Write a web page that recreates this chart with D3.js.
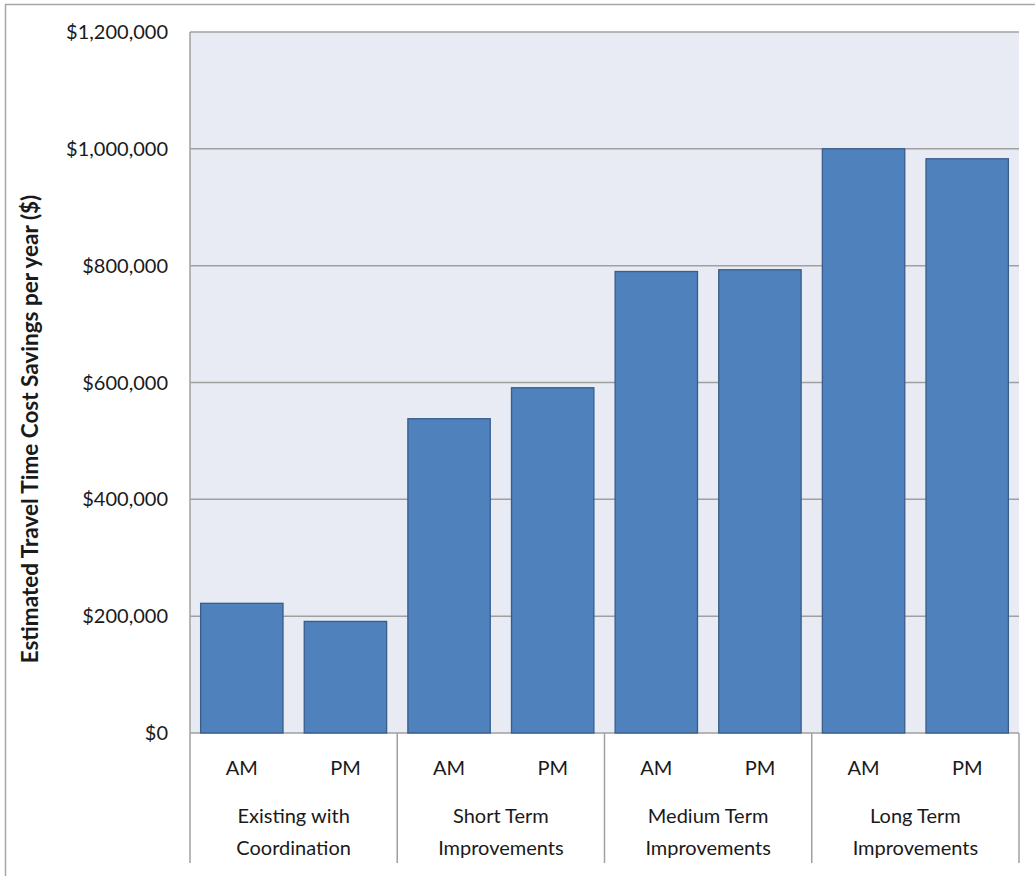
<!DOCTYPE html>
<html>
<head>
<meta charset="utf-8">
<script src="https://cdn.jsdelivr.net/npm/d3@7"></script>
<style>
  html, body { margin: 0; padding: 0; background: #ffffff; }
  svg { display: block; font-family: Lato, "Open Sans", sans-serif; }
</style>
</head>
<body>
<svg id="chart" width="1035" height="876"></svg>
<script>
// Scenario groups and the peak periods within each group
const groups = ["Existing with|Coordination", "Short Term|Improvements", "Medium Term|Improvements", "Long Term|Improvements"];
const periods = ["AM", "PM"];
// Estimated travel time cost savings per year, listed AM then PM for each group
const amValues = [222000, 538000, 790000, 1000000];
const pmValues = [191000, 591000, 793000, 983000];
const yTicks = [0, 200000, 400000, 600000, 800000, 1000000, 1200000];
const yTitle = "Estimated Travel Time Cost Savings per year ($)";

const rows = [];
groups.forEach((g, i) => {
  rows.push({ key: g + "-AM", group: g, period: periods[0], value: amValues[i] });
  rows.push({ key: g + "-PM", group: g, period: periods[1], value: pmValues[i] });
});

const svg = d3.select("#chart");
const plot = { left: 190, right: 1019, top: 32, bottom: 733 };
const textColor = "#1a1a1a";

// Outer chart frame
svg.append("rect")
  .attr("x", 5.5).attr("y", 4.5)
  .attr("width", 1040).attr("height", 900)
  .attr("fill", "#ffffff").attr("stroke", "#a6a6a6").attr("stroke-width", 1.5);

const x = d3.scaleBand()
  .domain(rows.map(d => d.key))
  .range([plot.left, plot.right])
  .paddingInner(0.205)
  .paddingOuter(0.1025);

const xGroup = d3.scaleBand()
  .domain(groups)
  .range([plot.left, plot.right]);

const y = d3.scaleLinear()
  .domain([0, 1200000])
  .range([plot.bottom, plot.top]);

// Plot background
svg.append("rect")
  .attr("x", plot.left).attr("y", plot.top)
  .attr("width", plot.right - plot.left).attr("height", plot.bottom - plot.top)
  .attr("fill", "#e8ebf3");

// Horizontal gridlines
svg.append("g").selectAll("line")
  .data(yTicks)
  .join("line")
  .attr("x1", plot.left).attr("x2", plot.right)
  .attr("y1", d => y(d)).attr("y2", d => y(d))
  .attr("stroke", "#a0a0a0").attr("stroke-width", 1.5);

// Y axis labels
const fmt = d3.format("$,");
svg.append("g").selectAll("text")
  .data(yTicks)
  .join("text")
  .attr("x", 168).attr("y", d => y(d))
  .attr("dy", "0.35em")
  .attr("text-anchor", "end")
  .attr("font-size", 20)
  .attr("fill", textColor)
  .text(d => fmt(d));

// Bars
svg.append("g").selectAll("rect")
  .data(rows)
  .join("rect")
  .attr("x", d => x(d.key))
  .attr("y", d => y(d.value))
  .attr("width", x.bandwidth())
  .attr("height", d => y(0) - y(d.value))
  .attr("fill", "#4f81bd")
  .attr("stroke", "#385d8a")
  .attr("stroke-width", 1.3);

// Y axis line and group separators
svg.append("line")
  .attr("x1", plot.left).attr("x2", plot.left)
  .attr("y1", plot.top).attr("y2", plot.bottom)
  .attr("stroke", "#a0a0a0").attr("stroke-width", 1.5);

const sepX = groups.map(g => xGroup(g)).concat([plot.right]);
svg.append("g").selectAll("line")
  .data(sepX)
  .join("line")
  .attr("x1", d => d).attr("x2", d => d)
  .attr("y1", plot.bottom).attr("y2", 863)
  .attr("stroke", "#a0a0a0").attr("stroke-width", 1.5);

// Period labels
svg.append("g").selectAll("text")
  .data(rows)
  .join("text")
  .attr("x", d => x(d.key) + x.bandwidth() / 2)
  .attr("y", 768)
  .attr("dy", "0.35em")
  .attr("text-anchor", "middle")
  .attr("font-size", 20)
  .attr("fill", textColor)
  .text(d => d.period);

// Group labels (two lines)
const gl = svg.append("g").selectAll("text")
  .data(groups)
  .join("text")
  .attr("text-anchor", "middle")
  .attr("font-size", 20)
  .attr("fill", textColor);
gl.each(function(g) {
  const lines = g.split("|");
  const cx = xGroup(g) + xGroup.bandwidth() / 2;
  d3.select(this).selectAll("tspan")
    .data(lines)
    .join("tspan")
    .attr("x", cx)
    .attr("y", (d, i) => 816 + i * 32)
    .attr("dy", "0.35em")
    .text(d => d);
});

// Y axis title
svg.append("text")
  .attr("transform", "translate(30,429) rotate(-90)")
  .attr("text-anchor", "middle")
  .attr("dy", "0.35em")
  .attr("font-size", 22.5)
  .attr("font-weight", "bold")
  .attr("fill", textColor)
  .text(yTitle);
</script>
</body>
</html>
